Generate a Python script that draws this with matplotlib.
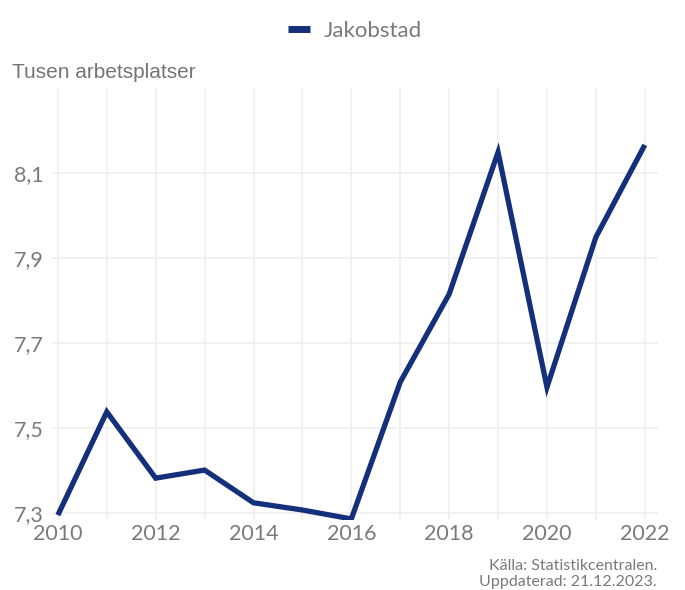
import matplotlib
matplotlib.use("Agg")
import matplotlib.pyplot as plt

years = [2010, 2011, 2012, 2013, 2014, 2015, 2016, 2017, 2018, 2019, 2020, 2021, 2022]
values = [7.295, 7.538, 7.382, 7.401, 7.324, 7.307, 7.286, 7.608, 7.815, 8.149, 7.596, 7.949, 8.166]
series_name = "Jakobstad"
y_ticks = [7.3, 7.5, 7.7, 7.9, 8.1]
x_ticks = [2010, 2012, 2014, 2016, 2018, 2020, 2022]

plt.rcParams['font.family'] = ['Lato', 'DejaVu Sans']
W, H = 685, 590
fig = plt.figure(figsize=(W/100, H/100), dpi=100)
ax = fig.add_axes([52/W, 1-520/H, (658-52)/W, (520-88)/H])

line_color = "#15307a"
ax.plot(years, values, color=line_color, lw=3.8, solid_capstyle='butt', solid_joinstyle='miter', label=series_name, zorder=3)

ax.set_xlim(2009.88, 2022.27)
ax.set_ylim(7.2835, 8.3)
ax.set_yticks(y_ticks)
ax.set_yticklabels([f"{v:.1f}".replace('.', ',') for v in y_ticks])
ax.set_xticks(x_ticks)
ax.set_xticks(years, minor=True)
ax.set_xticklabels([str(x) for x in x_ticks])

grid_color = "#f0f0f0"
ax.grid(True, which='both', axis='x', color=grid_color, lw=1.3, zorder=0)
ax.grid(True, which='major', axis='y', color=grid_color, lw=1.3, zorder=0)
for s in ax.spines.values():
    s.set_visible(False)
ax.tick_params(axis='both', which='both', length=0, labelsize=15.5, labelcolor="#7a7a7a")
ax.tick_params(axis='x', pad=3)
ax.tick_params(axis='y', pad=6)

fig.text(12/W, 1-72/H, "Tusen arbetsplatser", fontsize=15, color="#757575",
         family=['Liberation Sans', 'DejaVu Sans'], va='center', ha='left')

leg = fig.legend(loc='center', bbox_to_anchor=(355/W, 1-31/H), frameon=False, fontsize=16,
                 handlelength=1.0, handletextpad=0.6)
for t in leg.get_texts():
    t.set_color("#7a7a7a")
for l in leg.get_lines():
    l.set_linewidth(5)

fig.text(657/W, 1-566/H, "Källa: Statistikcentralen.", fontsize=11.5, color="#7a7a7a", ha='right', va='center')
fig.text(657/W, 1-582/H, "Uppdaterad: 21.12.2023.", fontsize=11.5, color="#7a7a7a", ha='right', va='center')

fig.savefig("out.png", dpi=100)
